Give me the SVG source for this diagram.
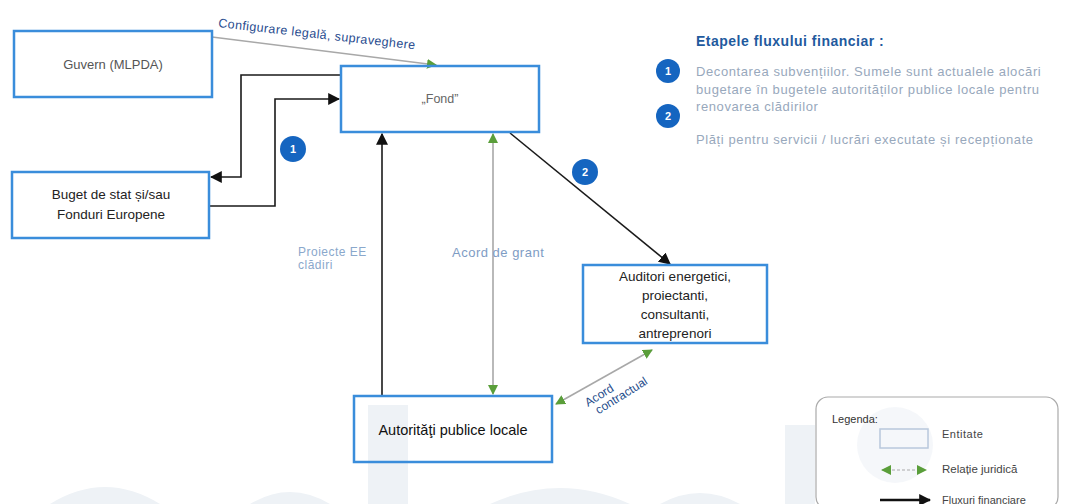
<svg xmlns="http://www.w3.org/2000/svg" width="1065" height="504" viewBox="0 0 1065 504">
<style>
.box{fill:none;stroke:#3a8ddb;stroke-width:2.5}
.t{font-family:"Liberation Sans",Arial,sans-serif}
.fin{fill:none;stroke:#1a1a1a;stroke-width:1.6}
.jur{fill:none;stroke:#a8a8a8;stroke-width:1.6}
.badge circle{fill:#1565c0}
.badge text{font-family:"Liberation Sans",Arial,sans-serif;font-size:11px;font-weight:bold;fill:#fff;text-anchor:middle}
.wm{fill:#eef2f6}
</style>
<defs>
<marker id="ag" viewBox="0 0 10 10" refX="9" refY="5" markerWidth="10" markerHeight="10" orient="auto-start-reverse" markerUnits="userSpaceOnUse"><path d="M0,0 L10,5 L0,10 z" fill="#5a9e3a"/></marker>
<marker id="abL" viewBox="0 0 10 10" refX="9" refY="5" markerWidth="12" markerHeight="12" orient="auto-start-reverse" markerUnits="userSpaceOnUse"><path d="M0,0 L10,5 L0,10 z" fill="#111"/></marker>
</defs>
<rect width="1065" height="504" fill="#fff"/>
<g id="watermark">
<rect class="wm" x="368" y="405" width="40" height="99"/>
<rect class="wm" x="785" y="425" width="30" height="79"/>
<path class="wm" d="M50,504 Q105,470 160,504 z"/>
<path class="wm" d="M250,504 Q290,480 330,504 z"/>
<path class="wm" d="M490,504 Q560,472 630,504 z"/>
<path class="wm" d="M660,504 Q700,482 740,504 z"/>
<circle class="wm" cx="895" cy="445" r="38" opacity="0.6"/>
</g>
<g id="connectors">
<line class="jur" x1="212" y1="37" x2="436" y2="65" marker-end="url(#ag)"/>
<polyline class="fin" points="341,75 241,75 241,177 211,177" marker-end="url(#abL)"/>
<polyline class="fin" points="209,206 275,206 275,99 339,99" marker-end="url(#abL)"/>
<line class="fin" x1="382" y1="396" x2="382" y2="134" marker-end="url(#abL)"/>
<line class="jur" x1="493" y1="134" x2="493" y2="394" marker-start="url(#ag)" marker-end="url(#ag)"/>
<line class="fin" x1="510" y1="133" x2="670" y2="264" marker-end="url(#abL)"/>
<line class="jur" x1="556" y1="404" x2="652" y2="350" marker-start="url(#ag)" marker-end="url(#ag)"/>
<text class="t" font-size="12.5" letter-spacing="0.4" fill="#2a4d8f" transform="translate(218,27) rotate(6.5)">Configurare legală, supraveghere</text>
<text class="t" font-size="12" letter-spacing="0.5" fill="#8aa8cc"><tspan x="298" y="256">Proiecte EE</tspan><tspan x="298" y="269">clădiri</tspan></text>
<text class="t" font-size="13" letter-spacing="0.5" fill="#7e9cc4" x="452" y="257">Acord de grant</text>
<text class="t" font-size="12" fill="#1f4e8c" transform="translate(588,407) rotate(-32)"><tspan x="0" y="0">Acord</tspan><tspan x="5" y="12">contractual</tspan></text>
</g>
<g id="guvern">
<rect class="box" x="14" y="31" width="198" height="66"/>
<text class="t" font-size="13" fill="#555" x="113" y="69" text-anchor="middle">Guvern (MLPDA)</text>
</g>
<g id="fond">
<rect class="box" x="341" y="66" width="198" height="66"/>
<text class="t" font-size="12.5" fill="#666" x="440" y="103" text-anchor="middle">„Fond”</text>
</g>
<g id="buget">
<rect class="box" x="12" y="172" width="197" height="66"/>
<text class="t" font-size="13.5" fill="#222" text-anchor="middle"><tspan x="111" y="199">Buget de stat și/sau</tspan><tspan x="111" y="219">Fonduri Europene</tspan></text>
</g>
<g id="auditori">
<rect class="box" x="583" y="265" width="184" height="78"/>
<text class="t" font-size="13.5" fill="#222" text-anchor="middle"><tspan x="675" y="281">Auditori energetici,</tspan><tspan x="675" y="300">proiectanti,</tspan><tspan x="675" y="319">consultanti,</tspan><tspan x="675" y="338">antreprenori</tspan></text>
</g>
<g id="autoritati">
<rect class="box" x="354" y="396" width="198" height="66"/>
<text class="t" font-size="14.5" fill="#111" x="453" y="435" text-anchor="middle">Autorităţi publice locale</text>
</g>
<g id="badge1" class="badge"><circle cx="293" cy="149" r="13"/><text x="293" y="153">1</text></g>
<g id="badge2" class="badge"><circle cx="585" cy="172" r="13"/><text x="585" y="176">2</text></g>
<g id="steps">
<text class="t" font-size="14" letter-spacing="0.5" font-weight="bold" fill="#1f5a9e" x="696" y="46">Etapele fluxului financiar :</text>
<g class="badge"><circle cx="668" cy="71" r="12"/><text x="668" y="75">1</text></g>
<g class="badge"><circle cx="668" cy="116" r="12"/><text x="668" y="120">2</text></g>
<text class="t" font-size="13" letter-spacing="0.6" fill="#98a8bc"><tspan x="696" y="76">Decontarea subvențiilor. Sumele sunt actualele alocări</tspan><tspan x="696" y="94">bugetare în bugetele autorităților publice locale pentru</tspan><tspan x="696" y="111">renovarea clădirilor</tspan><tspan x="696" y="144">Plăți pentru servicii / lucrări executate și recepționate</tspan></text>
</g>
<g id="legend">
<rect x="816" y="397" width="242" height="112" rx="12" fill="none" stroke="#aaa" stroke-width="1.2"/>
<text class="t" font-size="11" fill="#333" x="832" y="423">Legenda:</text>
<rect x="880" y="429" width="48" height="19" fill="none" stroke="#b8c8dc" stroke-width="1.5"/>
<text class="t" font-size="11" letter-spacing="0.5" fill="#444" x="942" y="438">Entitate</text>
<line x1="882" y1="470" x2="926" y2="470" stroke="#aaa" stroke-width="1.2" stroke-dasharray="3,2" marker-start="url(#ag)" marker-end="url(#ag)"/>
<text class="t" font-size="11.5" fill="#444" x="942" y="473">Relație juridică</text>
<line x1="880" y1="500" x2="930" y2="500" stroke="#111" stroke-width="2.5" marker-end="url(#abL)"/>
<text class="t" font-size="11" fill="#444" x="942" y="504">Fluxuri financiare</text>
</g>
</svg>
